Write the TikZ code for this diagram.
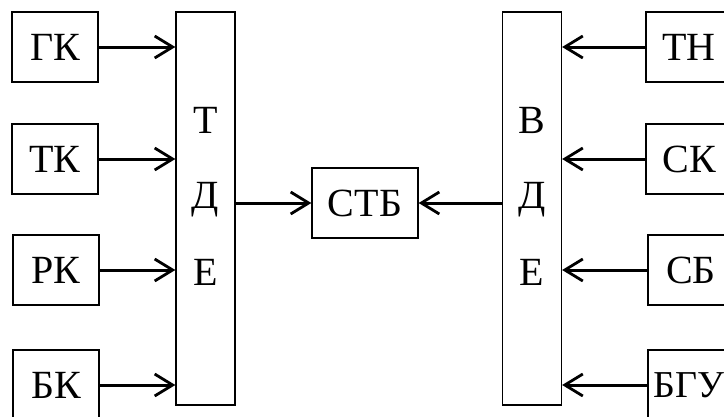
\documentclass[tikz,border=0pt]{standalone}
\usepackage{fontspec}
\setmainfont{Liberation Serif}
\usetikzlibrary{arrows.meta}
\tikzset{
  unit/.style={draw, line width=1.3pt, minimum width=86pt, minimum height=70pt,
    inner sep=0pt, font=\fontsize{40}{44}\selectfont},
  column/.style={draw, line width=1.3pt, minimum width=59pt, minimum height=393pt, inner sep=0pt},
  letter/.style={inner sep=0pt, anchor=base, font=\fontsize{40}{44}\selectfont},
  feed/.style={line width=3pt, -{Straight Barb[length=18pt,width=22pt,line width=2.8pt]}}
}
\begin{document}
\begin{tikzpicture}[x=1pt,y=-1pt]
\useasboundingbox (0,0) rectangle (724,416);

% left column of sources
\node[unit] (gk) at (55,47) {ГК};
\node[unit] (tk) at (55,159) {ТК};
\node[unit] (rk) at (56,270) {РК};
\node[unit] (bk) at (56,385) {БК};

% right column of sources
\node[unit] (tn) at (689,47) {ТН};
\node[unit] (sk) at (689,159) {СК};
\node[unit] (sb) at (691,270) {СБ};
\node[unit, font=\fontsize{38}{42}\selectfont] (bgu) at (691,385) {\hspace*{-4pt}БГУ};

% two tall collector blocks
\node[column] (tde) at (205.5,208.5) {};
\node[column] (vde) at (532,208.5) {};
\node[letter] (t1) at (205.5,133) {Т};
\node[letter] (t2) at (205.5,208) {Д};
\node[letter] (t3) at (205.5,285) {Е};
\node[letter] (v1) at (532,133) {В};
\node[letter] (v2) at (532,208) {Д};
\node[letter] (v3) at (532,285) {Е};

% central block
\node[unit, minimum width=106pt] (stb) at (365,203) {СТБ};

% connectors
\draw[feed] (gk.east) -- (gk.east -| tde.west);
\draw[feed] (tk.east) -- (tk.east -| tde.west);
\draw[feed] (rk.east) -- (rk.east -| tde.west);
\draw[feed] (bk.east) -- (bk.east -| tde.west);
\draw[feed] (tn.west) -- (tn.west -| vde.east);
\draw[feed] (sk.west) -- (sk.west -| vde.east);
\draw[feed] (sb.west) -- (sb.west -| vde.east);
\draw[feed] (bgu.west) -- (bgu.west -| vde.east);
\draw[feed] (stb.west -| tde.east) -- (stb.west);
\draw[feed] (stb.east -| vde.west) -- (stb.east);
\end{tikzpicture}
\end{document}
